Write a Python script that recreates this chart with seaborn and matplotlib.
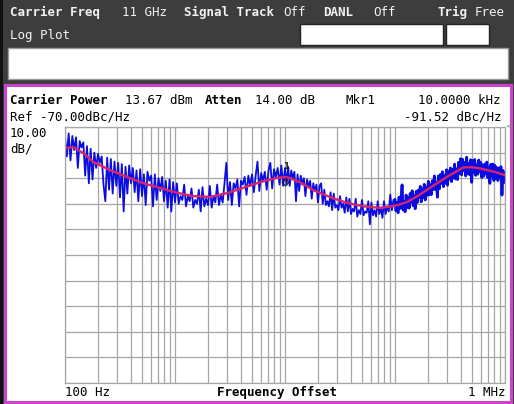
import numpy as np
import pandas as pd
import matplotlib
matplotlib.use("Agg")
import matplotlib.pyplot as plt
from matplotlib.patches import Rectangle
import seaborn as sns

# ---------------- data ----------------
# smoothed trace (red): offset frequency [Hz] and level [dBc/Hz]
red_freq = [100, 120, 150, 180, 250, 366, 500, 730, 1000, 1458, 2084, 3000,
            4148, 6000, 8429, 10400, 14000, 18000, 26000, 37000, 52000, 73000,
            100000, 129000, 160000, 208000, 296000, 417000, 500000, 595000,
            800000, 1000000]
red_db = [-78.2, -77.9, -80.5, -83.6, -86.6, -89.5, -91.8, -93.8, -95.5, -97.0,
          -97.3, -95.8, -93.8, -91.5, -89.9, -89.5, -91.8, -94.6, -97.5, -99.7,
          -101.0, -101.6, -100.8, -99.3, -97.0, -93.8, -89.5, -85.8, -85.7,
          -86.2, -87.5, -88.8]

# raw trace (blue), one list per decade of the log sweep
blue_dec1 = [-74.0, -81.5, -72.5, -83.0, -73.5, -79.0, -74.0, -86.0, -75.5, -78.0,
             -76.0, -89.0, -77.5, -92.0, -78.5, -90.5, -80.0, -86.0, -80.5, -84.0,
             -81.5, -92.5, -99.0, -82.0, -94.5, -82.5, -96.0, -83.5, -93.0, -84.0,
             -97.5, -84.5, -103.0, -85.5, -96.0, -85.0, -92.0, -86.0, -95.5, -87.0,
             -99.0, -86.5, -97.0, -88.5, -100.5, -87.5, -91.0, -89.0, -101.0, -88.5,
             -98.5, -90.0, -95.0, -89.5, -99.0, -91.0, -101.5, -90.5, -103.0, -91.5]
blue_dec2 = [-99.5, -92.0, -100.0, -97.0, -98.5, -92.5, -101.0, -97.0, -99.0, -94.0,
             -101.5, -98.5, -100.0, -94.5, -103.0, -93.5, -101.0, -98.0, -100.5, -93.0,
             -101.5, -97.0, -99.5, -92.5, -100.5, -96.5, -99.5, -92.0, -84.0, -98.5,
             -91.5, -100.5, -92.0, -94.0, -90.5, -101.0, -91.0, -92.5, -89.5, -96.5,
             -89.0, -93.0, -88.5, -95.5, -89.0, -83.5, -95.0, -88.0, -91.0, -87.5,
             -94.5, -87.0, -84.0, -94.0, -86.5, -89.5, -86.0, -92.5, -85.0, -93.0]
blue_dec3 = [-86.0, -92.5, -85.5, -93.0, -87.0, -90.0, -87.5, -99.0, -88.5, -95.0,
             -89.0, -92.5, -90.0, -97.0, -90.5, -93.5, -91.0, -98.0, -92.0, -95.0,
             -92.5, -99.5, -93.0, -92.0, -100.0, -94.5, -100.5, -99.0, -101.0, -95.5,
             -102.5, -96.0, -101.5, -100.5, -102.5, -97.0, -101.5, -100.0, -103.5, -97.5,
             -103.0, -98.0, -104.0, -102.0, -103.0, -98.0, -105.0, -102.5, -104.0, -98.5,
             -104.5, -103.0, -103.5, -99.0, -108.0, -99.5, -104.5, -102.5, -105.0, -99.0,
             -104.0, -101.5, -105.5, -99.0, -104.0, -101.0, -103.0, -96.4, -102.5, -98.5]
blue_dec4 = [-98.3, -102.7, -99.6, -103.5, -97.4, -101.8, -98.2, -92.6, -102.4, -99.2, -103.1,
             -96.6, -101.4, -97.5, -101.7, -96.0, -99.3, -94.9, -100.7, -96.9, -101.9, -95.2,
             -99.5, -94.7, -97.5, -93.2, -99.2, -94.2, -97.5, -92.4, -98.5, -93.7, -96.7,
             -91.2, -96.4, -92.5, -96.4, -91.0, -94.4, -89.1, -94.4, -91.6, -97.4, -89.1,
             -94.1, -88.5, -92.0, -87.5, -93.3, -89.0, -92.0, -86.7, -92.7, -87.2, -90.3,
             -86.0, -91.3, -86.6, -89.9, -84.5, -90.3, -86.4, -90.5, -83.8, -88.1, -82.4,
             -88.7, -82.6, -87.0, -83.9, -89.1, -81.8, -88.3, -84.2, -88.7, -82.8, -91.6,
             -83.1, -87.6, -82.7, -88.9, -84.8, -88.4, -82.9, -87.5, -83.9, -89.7, -84.8,
             -89.2, -84.5, -88.1, -83.7, -89.8, -85.7, -92.0, -84.6, -89.2, -84.5, -90.9,
             -85.0, -90.1, -85.9, -90.9, -86.0, -89.6, -85.5, -96.6, -87.0, -91.7, -88.0]
decade_starts = [100, 1000, 10000, 100000]

mkr_freq = 10000.0
mkr_db = -91.52

ref_level = -70.0
db_per_div = 10.0
n_div = 10

# build the sweep frequencies (log sweep within each decade)
blue_lists = [blue_dec1, blue_dec2, blue_dec3, blue_dec4]
bf, bv, bd = [], [], []
for k, (f0, vals) in enumerate(zip(decade_starts, blue_lists)):
    last = (k == len(blue_lists) - 1)
    bf.extend(np.geomspace(f0, f0 * 10, len(vals), endpoint=last))
    bv.extend(vals)
    bd.extend([k] * len(vals))
blue_df = pd.DataFrame({"freq": bf, "db": bv, "decade": bd})
red_df = pd.DataFrame({"freq": red_freq, "db": red_db})

# ---------------- figure ----------------
sns.set_style("white")
W, H = 514, 404
fig = plt.figure(figsize=(W / 100, H / 100), dpi=100)
fig.patch.set_facecolor("#3d3d3d")

def rect(x0, y0, x1, y1, **kw):
    fig.add_artist(Rectangle((x0 / W, 1 - y1 / H), (x1 - x0) / W, (y1 - y0) / H,
                             transform=fig.transFigure, zorder=-5, **kw))

def txt(x, y, s, bold=False, color="black", ha="left", size=9):
    fig.text(x / W, 1 - y / H, s, ha=ha, va="center", color=color,
             fontsize=size, fontweight="bold" if bold else "normal",
             family="DejaVu Sans Mono")

# outer dark edges
rect(0, 0, 2.5, H, facecolor="#111111", edgecolor="none")
# header boxes
rect(300, 24, 443, 45, facecolor="white", edgecolor="#222222", lw=1)
rect(446, 24, 489, 45, facecolor="white", edgecolor="#222222", lw=1)
rect(8, 48, 508, 79, facecolor="white", edgecolor="#9a9a9a", lw=1)
# magenta panel
rect(4.5, 84.5, 510.5, 401.5, facecolor="white", edgecolor="#cc44cc", lw=2.2)

hc = "#f2f2f2"
txt(10, 12.5, "Carrier Freq", True, hc)
txt(122, 12.5, "11 GHz", False, hc)
txt(184, 12.5, "Signal Track", True, hc)
txt(283, 12.5, "Off", False, hc)
txt(323, 12.5, "DANL", True, hc)
txt(373, 12.5, "Off", False, hc)
txt(438, 12.5, "Trig", True, hc)
txt(475, 12.5, "Free", False, hc)
txt(10, 35, "Log Plot", False, hc)

txt(10, 100.5, "Carrier Power", True)
txt(125, 100.5, "13.67 dBm")
txt(205, 100.5, "Atten", True)
txt(255, 100.5, "14.00 dB")
txt(345, 100.5, "Mkr1")
txt(501, 100.5, "%.4f kHz" % (mkr_freq / 1000), ha="right")
txt(10, 117.5, "Ref %.2fdBc/Hz" % ref_level)
txt(501, 117.5, "%.2f dBc/Hz" % mkr_db, ha="right")
txt(10, 133.5, "%.2f" % db_per_div)
txt(10, 149.5, "dB/")
txt(65, 392.5, "100 Hz")
txt(277, 392.5, "Frequency Offset", True, ha="center")
txt(505, 392.5, "1 MHz", ha="right")
# reference level indicator at the right edge
fig.text(509 / W, 1 - 126 / H, "<", ha="center", va="center", fontsize=6,
         color="#888888", family="DejaVu Sans")

# ---------------- plot area ----------------
x0, x1, y0, y1 = 65, 505, 127, 383
ax = fig.add_axes([x0 / W, 1 - y1 / H, (x1 - x0) / W, (y1 - y0) / H])
ax.set_zorder(5)
ax.set_facecolor("white")
ax.set_xscale("log")
ax.set_xlim(100, 1e6)
ax.set_ylim(ref_level - n_div * db_per_div, ref_level)

gc = "#a6a6a6"
ax.set_yticks(np.arange(ref_level - n_div * db_per_div, ref_level + 1, db_per_div))
ax.grid(True, which="major", axis="both", color=gc, lw=0.9)
ax.grid(True, which="minor", axis="x", color=gc, lw=0.9)
ax.tick_params(which="both", length=0, labelleft=False, labelbottom=False)
for s in ax.spines.values():
    s.set_color(gc)
    s.set_linewidth(0.9)

blue = "#0c0ce0"
sns.lineplot(data=blue_df, x="freq", y="db", ax=ax, color=blue,
             linewidth=1.3, estimator=None, sort=False, legend=False)
# densely sampled high-offset segment renders as a thick band
sns.lineplot(data=blue_df[blue_df["decade"] == 3], x="freq", y="db", ax=ax,
             color=blue, linewidth=2.0, estimator=None, sort=False, legend=False)
sns.lineplot(data=red_df, x="freq", y="db", ax=ax, color="#d8246c",
             linewidth=1.7, estimator=None, sort=False, legend=False)

ax.plot([mkr_freq], [mkr_db], marker="D", ms=3.5, mfc="none", mec="#202020",
        mew=0.8, zorder=5)
ax.annotate("1", (mkr_freq, mkr_db), xytext=(1, 11), textcoords="offset points",
            ha="center", va="center", fontsize=6, color="#202020",
            fontweight="bold")
ax.set_xlabel("")
ax.set_ylabel("")

fig.savefig("out.png", dpi=100, facecolor=fig.get_facecolor())
